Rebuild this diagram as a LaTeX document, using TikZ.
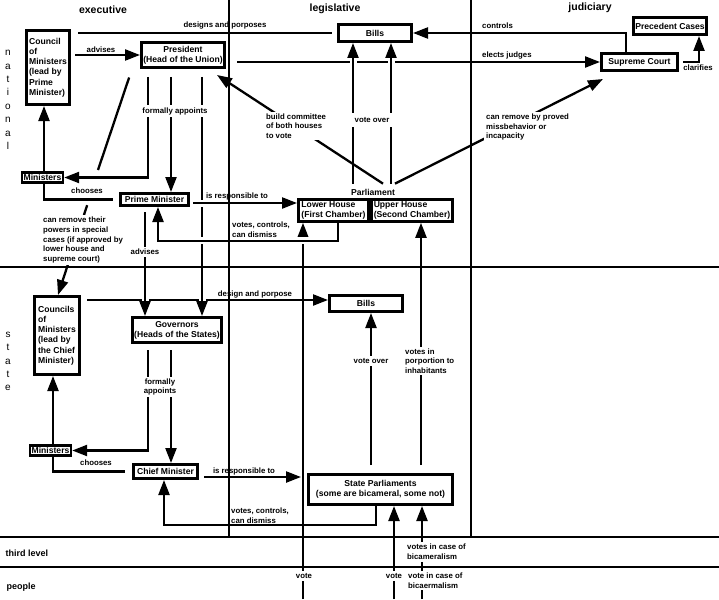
\documentclass[tikz,border=0pt]{standalone}
\usepackage{fontspec}
\setmainfont{Liberation Sans}
\usetikzlibrary{arrows.meta,backgrounds}

\begin{document}
\begin{tikzpicture}[x=1pt,y=-1pt,
    box/.style={draw, line width=2.6pt, fill=white, inner sep=1.5pt, align=center,
      font=\fontsize{8.6}{10.2}\selectfont\bfseries},
    lbl/.style={inner sep=1pt, align=left, font=\fontsize{7.8}{9.6}\selectfont\bfseries},
    lblw/.style={lbl, fill=white, inner sep=2pt},
    hdr/.style={font=\fontsize{10.5}{12}\selectfont\bfseries},
    rowname/.style={font=\fontsize{9}{11}\selectfont\bfseries, anchor=west},
    letters/.style={font=\fontsize{10}{13.4}\selectfont, align=center},
    conn/.style={line width=2.3pt},
    arr/.style={conn, -{Triangle[length=15pt,width=11pt]}},
    overpass/.style={preaction={draw=white, line width=7pt, -}},
    rowline/.style={line width=2.2pt}]
  \useasboundingbox (0,0) rectangle (719,599);

  % columns and rows
  \node[hdr] (hExec) at (103,10) {executive};
  \node[hdr] (hLegis) at (335,9) {legislative};
  \node[hdr] (hJud) at (590,8) {judiciary};
  \node[letters] (rNat) at (8,100) {n\\a\\t\\i\\o\\n\\a\\l};
  \node[letters] (rState) at (8,361.5) {s\\t\\a\\t\\e};
  \node[rowname] (rThird) at (2,553) {third level};
  \node[rowname] (rPeople) at (3,587) {people};

  % national
  \node[box, align=left, minimum width=43.4pt, minimum height=74.4pt] (council) at (48,67.5)
    {Council\\of\\Ministers\\(lead by\\Prime\\Minister)};
  \node[box, minimum width=83.4pt, minimum height=25.4pt] (president) at (183,55)
    {President\\(Head of the Union)};
  \node[box, minimum width=73.4pt, minimum height=17.4pt] (billsN) at (375,33) {Bills};
  \node[box, minimum width=73.4pt, minimum height=17.4pt] (precedent) at (670,26) {Precedent Cases};
  \node[box, minimum width=76.4pt, minimum height=17.4pt] (supreme) at (639.5,62) {Supreme Court};
  \node[box, minimum width=40.4pt, minimum height=10.4pt] (ministersN) at (42.5,177.5) {Ministers};
  \node[box, minimum width=68.4pt, minimum height=12.4pt] (pm) at (154.5,199.5) {Prime Minister};
  \node[font=\fontsize{8.6}{10.2}\selectfont\bfseries, inner sep=1pt] (parl) at (373,192) {Parliament};
  \node[box, align=left, inner sep=1pt, minimum width=70.4pt, minimum height=22pt] (lower) at (333.5,210.5)
    {Lower House\\(First Chamber)};
  \node[box, align=left, inner sep=1pt, minimum width=81.4pt, minimum height=22pt] (upper) at (412,210.5)
    {Upper House\\(Second Chamber)};

  % state
  \node[box, align=left, minimum width=45.4pt, minimum height=78.4pt] (councilS) at (57,335.5)
    {Councils\\of\\Ministers\\(lead by\\the Chief\\Minister)};
  \node[box, minimum width=87.4pt, minimum height=25.4pt] (governors) at (177,330)
    {Governors\\(Heads of the States)};
  \node[box, minimum width=73.4pt, minimum height=16.4pt] (billsS) at (366,303.5) {Bills};
  \node[box, minimum width=40.4pt, minimum height=10.4pt] (ministersS) at (50.5,450.5) {Ministers};
  \node[box, minimum width=64.4pt, minimum height=14.4pt] (cm) at (165.5,471.5) {Chief Minister};
  \node[box, minimum width=144.4pt, minimum height=30.4pt] (stateparl) at (380.5,489.5)
    {State Parliaments\\(some are bicameral, some not)};

  \coordinate (presDiag) at (98,170);
  \coordinate (tapN) at (89,199.5);
  \coordinate (pplA) at (303,599);
  \coordinate (pplB) at (394,599);
  \coordinate (pplC) at (422,599);

  % labels
  \node[lbl] (lDesignsN) at (225,26) {designs and porposes};
  \node[lbl, anchor=west] (lControls) at (481,26) {controls};
  \node[lbl] (lAdvisesN) at (101,50) {advises};
  \node[lbl, anchor=west] (lElects) at (481,56) {elects judges};
  \node[lbl] (lClarifies) at (698,68) {clarifies};
  \node[lblw] (lAppointN) at (175,111) {formally appoints};
  \node[lblw, anchor=west] (lBuild) at (264,126) {build committee\\of both houses\\to vote};
  \node[lblw, minimum width=44pt, minimum height=14pt, align=center] (lVoteOverN) at (372,120) {vote over};
  \node[lblw, anchor=west] (lRemoveJ) at (484,127) {can remove by proved\\missbehavior or\\incapacity};
  \node[lbl] (lChoosesN) at (87,191) {chooses};
  \node[lbl] (lRespN) at (237,196) {is responsible to};
  \node[lbl, anchor=west] (lVotesN) at (231,229.5) {votes, controls,\\can dismiss};
  \node[lblw, anchor=west] (lRemoveS) at (41,240)
    {can remove their\\powers in special\\cases (if approved by\\lower house and\\supreme court)};
  \node[lblw] (lAdvisesS) at (145,252) {advises};
  \node[lbl] (lDesignS) at (255,294) {design and porpose};
  \node[lblw, align=center] (lAppointS) at (160,387) {formally\\appoints};
  \node[lblw] (lVoteOverS) at (371,361) {vote over};
  \node[lblw, anchor=west] (lPropo) at (403,361) {votes in\\porportion to\\inhabitants};
  \node[lbl] (lChoosesS) at (96,463) {chooses};
  \node[lbl] (lRespS) at (244,471) {is responsible to};
  \node[lbl, anchor=west] (lVotesS) at (230,515.5) {votes, controls,\\can dismiss};
  \node[lblw, anchor=west] (lBicam) at (405,552) {votes in case of\\bicameralism};
  \node[lblw] (lVoteA) at (304,576) {vote};
  \node[lblw] (lVoteB) at (394,576) {vote};
  \node[lblw, anchor=west] (lBicamP) at (406,580.5) {vote in case of\\bicaermalism};

  \begin{scope}[on background layer]
    % national
    \draw[conn, shorten <=7pt, shorten >=5pt] (council.east |- billsN.west) -- (billsN.west);
    \draw[arr, shorten <=4pt] (council.east |- president.west) -- (president.west);
    \draw[arr] (supreme.north -| 626,0) |- (billsN.east);
    \draw[arr, shorten <=11pt] (president.east |- supreme.west) -- (supreme.west);
    \draw[arr, shorten <=4pt] (supreme.east) -| (precedent.south -| 699,0);
    \draw[arr, overpass] ([shift={(-20,-4)}]parl.north) -- (billsN.south -| 353,0);
    \draw[arr, overpass] ([shift={(18,-4)}]parl.north) -- (billsN.south -| 391,0);
    \draw[arr] ([shift={(10,-4)}]parl.north) -- ([shift={(-9,6)}]president.south east);
    \draw[arr] ([shift={(22,-4)}]parl.north) -- ([shift={(3,7)}]supreme.south west);
    \draw[arr, shorten <=8pt] (president.south -| 148,0) |- (ministersN.east);
    \draw[arr, shorten <=8pt] (president.south -| 171,0) -- (pm.north -| 171,0);
    \draw[conn, shorten <=9pt] (president.south -| 132,0) -- (presDiag);
    \draw[arr] (ministersN.north -| 44,0) -- (council.south -| 44,0);
    \draw[conn, shorten >=6pt] (ministersN.south -| 44,0) |- (pm.west);
    \draw[arr, shorten <=6pt] (tapN) -- (councilS.north -| 58,0);
    % state
    \draw[arr, shorten <=6pt] (councilS.east |- 0,300) -- (billsS.west |- 0,300);
    \draw[arr, overpass, shorten <=5pt] (pm.south -| 145,0) -- (governors.north -| 145,0);
    \draw[arr, overpass, shorten <=8pt] (president.south -| 202,0) -- (governors.north -| 202,0);
    \draw[arr] (pplA) -- (lower.south -| 303,0);
    \draw[arr, overpass, shorten <=3pt] (pm.east |- 0,203) -- (lower.west |- 0,203);
    \draw[arr, overpass] (lower.south -| 338,0) -- ++(0,18) -| (pm.south -| 158,0);
    \draw[arr, shorten <=6pt] (governors.south -| 148,0) |- (ministersS.east);
    \draw[arr, shorten <=6pt] (governors.south -| 171,0) -- (cm.north -| 171,0);
    \draw[arr] (ministersS.north -| 53,0) -- (councilS.south -| 53,0);
    \draw[conn, shorten >=7pt] (ministersS.south -| 53,0) |- (cm.west);
    \draw[arr, shorten <=5pt, shorten >=6pt] (cm.east |- 0,477) -- (stateparl.west |- 0,477);
    \draw[arr] (stateparl.south -| 376,0) -- ++(0,19) -| (cm.south -| 164,0);
    \draw[arr, shorten <=8pt] (stateparl.north -| 371,0) -- (billsS.south -| 371,0);
    \draw[arr, shorten <=8pt] (stateparl.north -| 421,0) -- (upper.south -| 421,0);
    \draw[arr] (pplB) -- (stateparl.south -| 394,0);
    \draw[arr] (pplC) -- (stateparl.south -| 422,0);
    % grid
    \draw[rowline] (229,0) -- (229,537);
    \draw[rowline] (471,0) -- (471,537);
    \draw[rowline] (0,267) -- (719,267);
    \draw[rowline] (0,537) -- (719,537);
    \draw[rowline] (0,567) -- (719,567);
  \end{scope}
\end{tikzpicture}
\end{document}
